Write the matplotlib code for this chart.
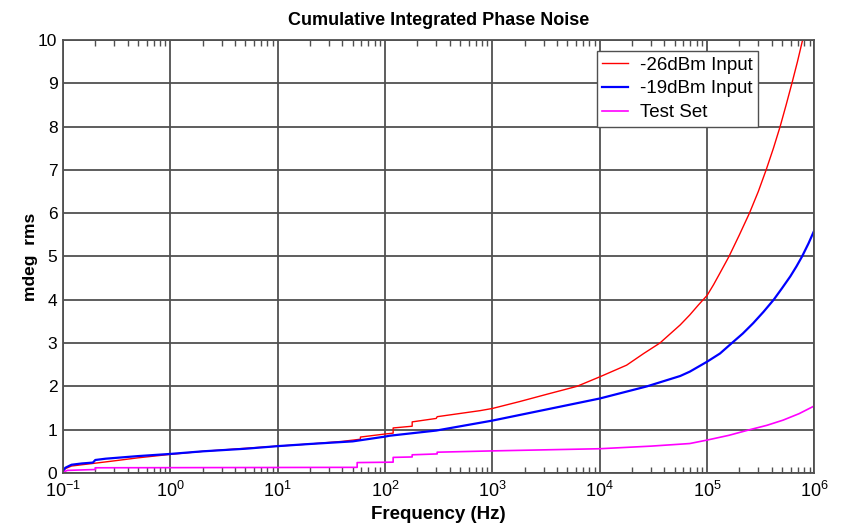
import matplotlib
matplotlib.use("Agg")
import matplotlib.pyplot as plt
import numpy as np

plt.rcParams["font.family"] = ["Liberation Sans", "DejaVu Sans"]
plt.rcParams["mathtext.default"] = "regular"

# cumulative integrated phase noise, mdeg rms vs offset frequency (Hz)
freq_26 = [0.1, 0.105, 0.12, 0.15, 0.19, 0.3, 0.5, 1, 2, 5, 10, 20, 40, 59, 59,
           100, 119, 119, 179, 179, 300, 306, 770, 1000, 1800, 3240, 6120, 1e4,
           1.78e4, 2.57e4, 3.63e4, 5.62e4, 6.9e4, 8.3e4, 1e5, 1.15e5, 1.32e5,
           1.6e5, 2.0e5, 2.48e5, 3.0e5, 3.55e5, 4.15e5, 4.79e5, 5.45e5, 6.17e5,
           6.95e5, 7.76e5, 1e6]
mdeg_26 = [0.03, 0.10, 0.16, 0.19, 0.22, 0.28, 0.35, 0.43, 0.50, 0.57, 0.62, 0.67,
           0.73, 0.78, 0.83, 0.90, 0.92, 1.04, 1.08, 1.18, 1.26, 1.30, 1.44, 1.49,
           1.65, 1.82, 2.0, 2.22, 2.49, 2.76, 3.0, 3.42, 3.65, 3.88, 4.1, 4.35,
           4.62, 5.0, 5.5, 6.0, 6.5, 7.0, 7.5, 8.0, 8.5, 9.0, 9.5, 10.0, 11.3]

freq_19 = [0.1, 0.105, 0.12, 0.15, 0.19, 0.2, 0.25, 0.5, 1, 2, 5, 10, 20, 50, 100,
           110, 300, 770, 1000, 3240, 1e4, 2.75e4, 5.62e4, 6.9e4, 1e5, 1.32e5,
           1.7e5, 2.15e5, 2.69e5, 3.35e5, 4.17e5, 5.0e5, 5.96e5, 6.8e5, 7.67e5,
           8.8e5, 1e6]
mdeg_19 = [0.04, 0.12, 0.19, 0.22, 0.24, 0.30, 0.33, 0.39, 0.44, 0.50, 0.56, 0.62,
           0.67, 0.73, 0.84, 0.86, 0.98, 1.16, 1.21, 1.47, 1.72, 2.0, 2.24, 2.34,
           2.57, 2.76, 3.0, 3.22, 3.46, 3.72, 4.0, 4.27, 4.54, 4.77, 5.0, 5.3, 5.61]

freq_ts = [0.1, 0.11, 0.2, 0.2, 55, 55, 119, 119, 179, 179, 306, 306, 1000, 1e4,
           3e4, 6.9e4, 1e5, 1.6e5, 2.5e5, 3.6e5, 5.1e5, 7.2e5, 1e6]
mdeg_ts = [0.02, 0.06, 0.08, 0.12, 0.13, 0.24, 0.25, 0.36, 0.37, 0.42, 0.44, 0.48,
           0.51, 0.56, 0.62, 0.68, 0.76, 0.87, 1.0, 1.1, 1.22, 1.37, 1.55]

fig = plt.figure(figsize=(8.41, 5.29), dpi=100)
ax = fig.add_axes([0.0749, 0.1059, 0.8935, 0.8185])

ax.semilogx(freq_26, mdeg_26, color="#ff0000", linewidth=1.0, label="-26dBm Input")
ax.semilogx(freq_19, mdeg_19, color="#0000ff", linewidth=1.6, label="-19dBm Input")
ax.semilogx(freq_ts, mdeg_ts, color="#ff00ff", linewidth=1.2, label="Test Set")

ax.set_xlim(0.1, 1e6)
ax.set_ylim(0, 10)
ax.set_yticks(np.arange(0, 11, 1))

ax.grid(True, which="major", color="#505050", linewidth=1.3)
ax.tick_params(axis="x", which="both", direction="in", top=True, labelsize=13,
               color="#505050", pad=6)
ax.tick_params(axis="x", which="major", length=0)
ax.tick_params(axis="x", which="minor", length=4, width=1)
ax.tick_params(axis="y", which="both", length=0, labelsize=12.5, pad=4)
for sp in ax.spines.values():
    sp.set_color("#505050")
    sp.set_linewidth(1.3)

ax.set_title("Cumulative Integrated Phase Noise", fontsize=13, fontweight="bold", pad=11)
ax.set_xlabel("Frequency (Hz)", fontsize=13.5, fontweight="bold", labelpad=3)
ax.set_ylabel("mdeg  rms", fontsize=12.5, fontweight="bold", labelpad=0)

leg = ax.legend(loc="upper left", bbox_to_anchor=(0.71, 0.975), borderaxespad=0,
                fontsize=13.5, handlelength=1.4, handletextpad=0.6, labelspacing=0.36,
                fancybox=False, framealpha=1, edgecolor="#505050",
                borderpad=0.3)
leg.get_frame().set_linewidth(1.0)

fig.savefig("out.png", dpi=100)
